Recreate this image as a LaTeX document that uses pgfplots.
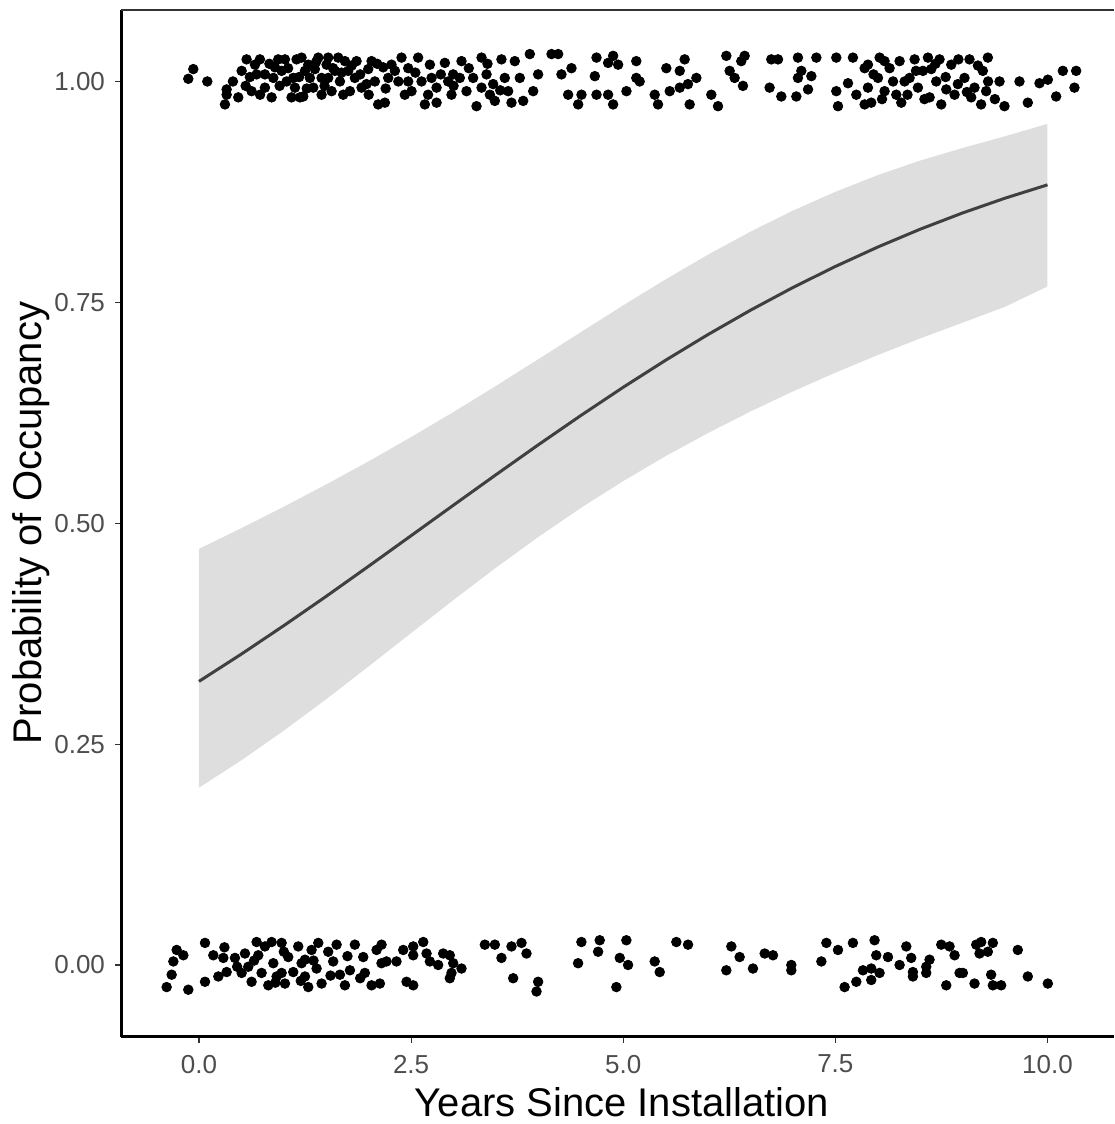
\documentclass[border=0pt]{standalone}
\usepackage{pgfplots}
\pgfplotsset{compat=1.18}
\usepgfplotslibrary{fillbetween}
\usepackage{fontspec}
\setmainfont{Liberation Sans}
\definecolor{ticklab}{HTML}{4D4D4D}
\definecolor{ribbon}{HTML}{DEDEDE}
\definecolor{fitline}{HTML}{404040}
\definecolor{tickc}{HTML}{333333}
\begin{document}
\begin{tikzpicture}
\begin{axis}[
  at={(60.5pt,43.5pt)}, anchor=south west,
  scale only axis, width=496.5pt, height=513.5pt,
  xmin=-0.919, xmax=10.784, ymin=-0.0815, ymax=1.0809,
  axis x line*=bottom, axis y line*=left,
  axis line style={line width=1.5pt, black, -},
  xtick={0,2.5,5,7.5,10}, xticklabels={0.0,2.5,5.0,7.5,10.0},
  ytick={0,0.25,0.5,0.75,1}, yticklabels={0.00,0.25,0.50,0.75,1.00},
  tick align=outside, major tick length=3pt,
  tick style={tickc, line width=0.6pt},
  ticklabel style={font=\fontsize{13}{15.6}\selectfont, text=ticklab},
  xticklabel style={yshift=-2.5pt},
  yticklabel style={xshift=-1.5pt},
  clip=false,
]
\addplot[name path=up, draw=none] coordinates {
(0,0.4710)(0.5,0.4944)(1,0.5187)(1.5,0.5439)(2,0.5701)(2.5,0.5975)(3,0.6259)(3.5,0.6554)(4,0.6857)(4.5,0.7162)(5,0.7466)(5.5,0.7760)(6,0.8040)(6.5,0.8300)(7,0.8538)(7.5,0.8751)(8,0.8940)(8.5,0.9105)(9,0.9247)(9.5,0.9380)(10,0.9520)};
\addplot[name path=lo, draw=none] coordinates {
(0,0.2007)(0.5,0.2317)(1,0.2653)(1.5,0.3009)(2,0.3380)(2.5,0.3757)(3,0.4132)(3.5,0.4497)(4,0.4845)(4.5,0.5173)(5,0.5477)(5.5,0.5760)(6,0.6021)(6.5,0.6265)(7,0.6492)(7.5,0.6704)(8,0.6904)(8.5,0.7092)(9,0.7270)(9.5,0.7450)(10,0.7680)};
\addplot[fill=ribbon, draw=none] fill between[of=up and lo];
\addplot[fitline, line width=1.5pt] coordinates {
(0,0.3210)(0.5,0.3519)(1,0.3841)(1.5,0.4173)(2,0.4514)(2.5,0.4859)(3,0.5205)(3.5,0.5549)(4,0.5888)(4.5,0.6219)(5,0.6539)(5.5,0.6845)(6,0.7136)(6.5,0.7411)(7,0.7668)(7.5,0.7906)(8,0.8126)(8.5,0.8328)(9,0.8512)(9.5,0.8679)(10,0.8830)};
% occupied (1) jittered
\addplot[only marks, mark=*, mark size=2.4pt, black] coordinates {
(-0.067,1.014)(-0.126,1.003)(0.098,1.000)(0.326,0.991)(0.326,0.985)(0.306,0.974)(0.463,0.982)(0.503,1.012)(0.561,1.025)(0.620,0.989)(0.660,1.019)(0.679,1.008)(0.718,1.025)(0.777,1.008)(0.856,0.982)(0.876,1.004)(0.895,1.016)(0.934,1.025)(0.974,1.012)(1.013,1.025)(1.033,1.000)(1.091,0.982)(1.111,1.004)(1.131,0.993)(1.209,1.027)(1.229,0.983)(1.249,1.012)(1.288,1.019)(1.307,1.004)(1.347,0.993)(1.366,1.014)(1.406,1.027)(1.445,1.004)(1.445,0.985)(1.504,1.019)(1.523,1.027)(1.563,0.989)(1.602,1.012)(1.641,1.027)(1.661,1.000)(1.720,1.023)(1.759,1.012)(1.779,0.989)(1.837,1.004)(1.857,1.023)(1.916,0.993)(1.975,0.997)(2.034,1.023)(2.073,1.000)(2.112,0.974)(2.171,1.016)(2.191,0.976)(2.230,1.004)(2.269,1.019)(2.309,1.012)(2.387,1.027)(2.426,0.985)(2.466,1.000)
(0.777,0.993)(1.190,0.982)(1.700,0.985)(1.523,1.004)(1.995,1.014)(1.150,1.025)
(0.40,1.000)(0.55,0.995)(0.60,1.005)(0.72,0.985)(0.83,1.020)(0.95,0.995)(1.05,1.015)(1.18,1.005)(1.27,0.992)(1.38,1.022)(1.48,0.995)(1.58,1.015)(1.68,1.010)(1.80,1.018)(1.90,1.008)(2.00,0.985)(2.10,1.020)(2.20,0.992)(2.35,1.000)(2.55,1.010)(2.70,0.985)(2.85,1.008)(3.00,0.995)(3.18,1.015)(3.40,1.020)(3.55,0.990)
(2.466,1.015)(2.505,0.989)(2.583,1.027)(2.623,1.000)(2.662,0.974)(2.721,1.019)(2.741,1.004)(2.800,0.993)(2.898,1.021)(2.937,1.000)(2.976,0.985)(3.074,1.004)(3.094,1.023)(3.153,0.989)(3.231,1.004)(3.271,0.972)(3.330,1.027)(3.389,1.008)(3.428,0.985)(3.467,0.997)(3.487,0.978)(3.565,1.025)(3.604,1.004)(3.683,0.976)(3.722,1.023)(3.781,1.004)(3.821,0.978)(3.899,1.031)(3.939,0.989)(3.997,1.008)(4.155,1.031)(4.233,1.031)(4.272,1.008)(4.351,0.985)(4.390,1.015)(4.469,0.974)(4.508,0.985)(4.685,1.027)(4.665,1.006)(4.685,0.985)(4.822,1.021)(4.881,1.029)(4.940,1.019)(4.822,0.985)(4.881,0.974)(5.038,0.989)(5.154,1.023)(5.154,1.004)
(3.330,0.993)(3.644,0.989)(2.800,0.976)(2.996,1.008)
(5.194,1.000)(5.371,0.985)(5.410,0.974)(5.508,1.015)(5.548,0.989)(5.666,1.012)(5.724,1.025)(5.666,0.993)(5.763,0.997)(5.783,0.974)(5.862,1.004)(6.038,0.985)(6.117,0.972)(6.215,1.029)(6.254,1.012)(6.313,1.004)(6.391,1.023)(6.431,1.029)(6.411,0.995)(6.745,1.025)(6.824,1.025)(6.725,0.993)(6.863,0.983)(7.059,1.027)(7.059,1.004)(7.099,1.012)(7.217,1.006)(7.178,0.991)(7.040,0.983)(7.276,1.027)(7.511,1.027)(7.707,1.027)(7.511,0.989)(7.531,0.972)(7.649,0.998)(7.747,0.985)(7.845,1.015)(7.845,0.974)
(7.884,1.019)(7.884,0.993)(7.923,0.976)(8.022,1.027)(8.002,1.004)(8.080,0.989)(8.139,1.015)(8.218,0.985)(8.257,1.023)(8.277,0.976)(8.375,1.004)(8.434,1.025)(8.473,0.993)(8.532,1.012)(8.591,1.027)(8.611,0.982)(8.689,1.000)(8.728,1.025)(8.748,0.974)(8.807,0.991)(8.866,1.019)(8.905,0.985)(9.022,1.004)(9.081,1.025)(9.140,0.993)(9.218,0.974)(9.238,1.012)(9.297,1.027)(9.277,0.989)(9.435,1.000)(9.493,0.972)(9.670,1.000)(9.768,0.976)(9.906,0.998)(10.004,1.002)(10.181,1.012)(10.102,0.983)(10.338,1.012)(10.318,0.993)
(8.316,1.000)(8.630,1.014)(8.944,0.997)(9.101,0.982)(8.080,1.023)
(7.95,1.008)(8.05,0.980)(8.18,1.000)(8.35,0.985)(8.45,1.012)(8.55,0.980)(8.68,1.020)(8.80,1.005)(8.95,1.025)(9.05,0.988)(9.18,1.018)(9.30,1.000)(9.38,0.980)
};
% unoccupied (0) jittered
\addplot[only marks, mark=*, mark size=2.4pt, black] coordinates {
(-0.263,0.017)(-0.184,0.011)(-0.302,0.004)(-0.322,-0.011)(-0.381,-0.025)(-0.126,-0.028)(0.071,0.025)(0.071,-0.019)(0.169,0.011)(0.287,0.008)(0.326,-0.008)(0.228,-0.013)(0.424,0.008)(0.542,0.013)(0.581,-0.002)(0.620,-0.019)(0.679,0.026)(0.699,0.011)(0.738,-0.009)(0.777,0.021)(0.817,-0.023)(0.856,0.026)(0.876,0.002)(0.915,-0.013)(0.974,0.025)(1.013,-0.021)(1.052,0.009)(1.111,-0.008)(1.170,0.021)(1.209,0.002)(1.249,-0.013)(1.288,-0.025)(1.327,0.017)(1.386,-0.004)(1.406,0.025)(1.445,-0.021)(1.523,0.015)(1.582,0.004)(1.622,0.023)(1.661,-0.011)(1.720,-0.023)(1.779,-0.006)(1.837,0.023)(1.936,0.009)(1.955,-0.009)(2.034,-0.023)(2.093,0.017)(2.151,0.002)
(0.503,-0.009)(1.249,0.006)(0.974,-0.009)
(0.45,-0.002)(0.65,0.005)(0.90,-0.020)(1.00,0.015)(1.20,-0.018)(1.35,0.005)(1.55,-0.012)(1.75,0.010)(1.90,-0.015)(0.30,0.020)
(2.152,0.023)(2.210,0.004)(2.328,0.004)(2.407,0.017)(2.525,0.021)(2.525,0.011)(2.643,0.026)(2.682,0.013)(2.721,0.004)(2.819,0.000)(2.878,0.013)(2.956,0.011)(2.996,0.002)(3.094,-0.004)(2.976,-0.009)(2.956,-0.015)(2.446,-0.019)(2.525,-0.023)(2.132,-0.021)(3.369,0.023)(3.487,0.023)(3.565,0.008)(3.683,0.021)(3.801,0.025)(3.860,0.013)(3.703,-0.015)(3.997,-0.019)(3.978,-0.030)(4.507,0.026)(4.468,0.002)(4.723,0.028)(4.704,0.015)
(5.037,0.028)(4.959,0.008)(5.057,0.000)(4.919,-0.025)(5.371,0.004)(5.430,-0.008)(5.626,0.026)(5.764,0.023)(6.274,0.021)(6.372,0.009)(6.215,-0.006)(6.529,-0.004)(6.667,0.013)(6.765,0.011)(6.981,0.000)(6.981,-0.006)(7.335,0.004)(7.394,0.025)
(7.707,0.025)(7.531,0.017)(7.962,0.028)(7.982,0.011)(8.120,0.009)(7.825,-0.006)(7.923,-0.004)(8.021,-0.009)(7.923,-0.017)(7.747,-0.019)(7.609,-0.025)(8.257,0.000)(8.336,0.021)(8.394,0.008)(8.414,-0.008)(8.414,-0.013)(8.571,-0.002)(8.610,0.006)(8.571,-0.009)(8.748,0.023)(8.846,0.021)(8.905,0.011)(8.807,-0.023)(8.964,-0.009)(9.003,-0.009)(9.160,0.023)(9.219,0.026)(9.199,0.013)(9.356,0.025)(9.297,0.015)(9.140,-0.021)(9.336,-0.011)(9.356,-0.023)(9.454,-0.023)(9.650,0.017)(9.768,-0.013)(10.004,-0.021)
};
\draw[tickc, line width=1pt] (rel axis cs:0,1) -- (rel axis cs:1,1);
\end{axis}
\node[rotate=90, anchor=base, font=\fontsize{20}{24}\selectfont] at (21pt,300.5pt) {Probability of Occupancy};
\node[anchor=base, font=\fontsize{20}{24}\selectfont] at (311pt,4pt) {Years Since Installation};
\pgfresetboundingbox
\useasboundingbox (0,0) rectangle (557pt,562pt);
\end{tikzpicture}
\end{document}
